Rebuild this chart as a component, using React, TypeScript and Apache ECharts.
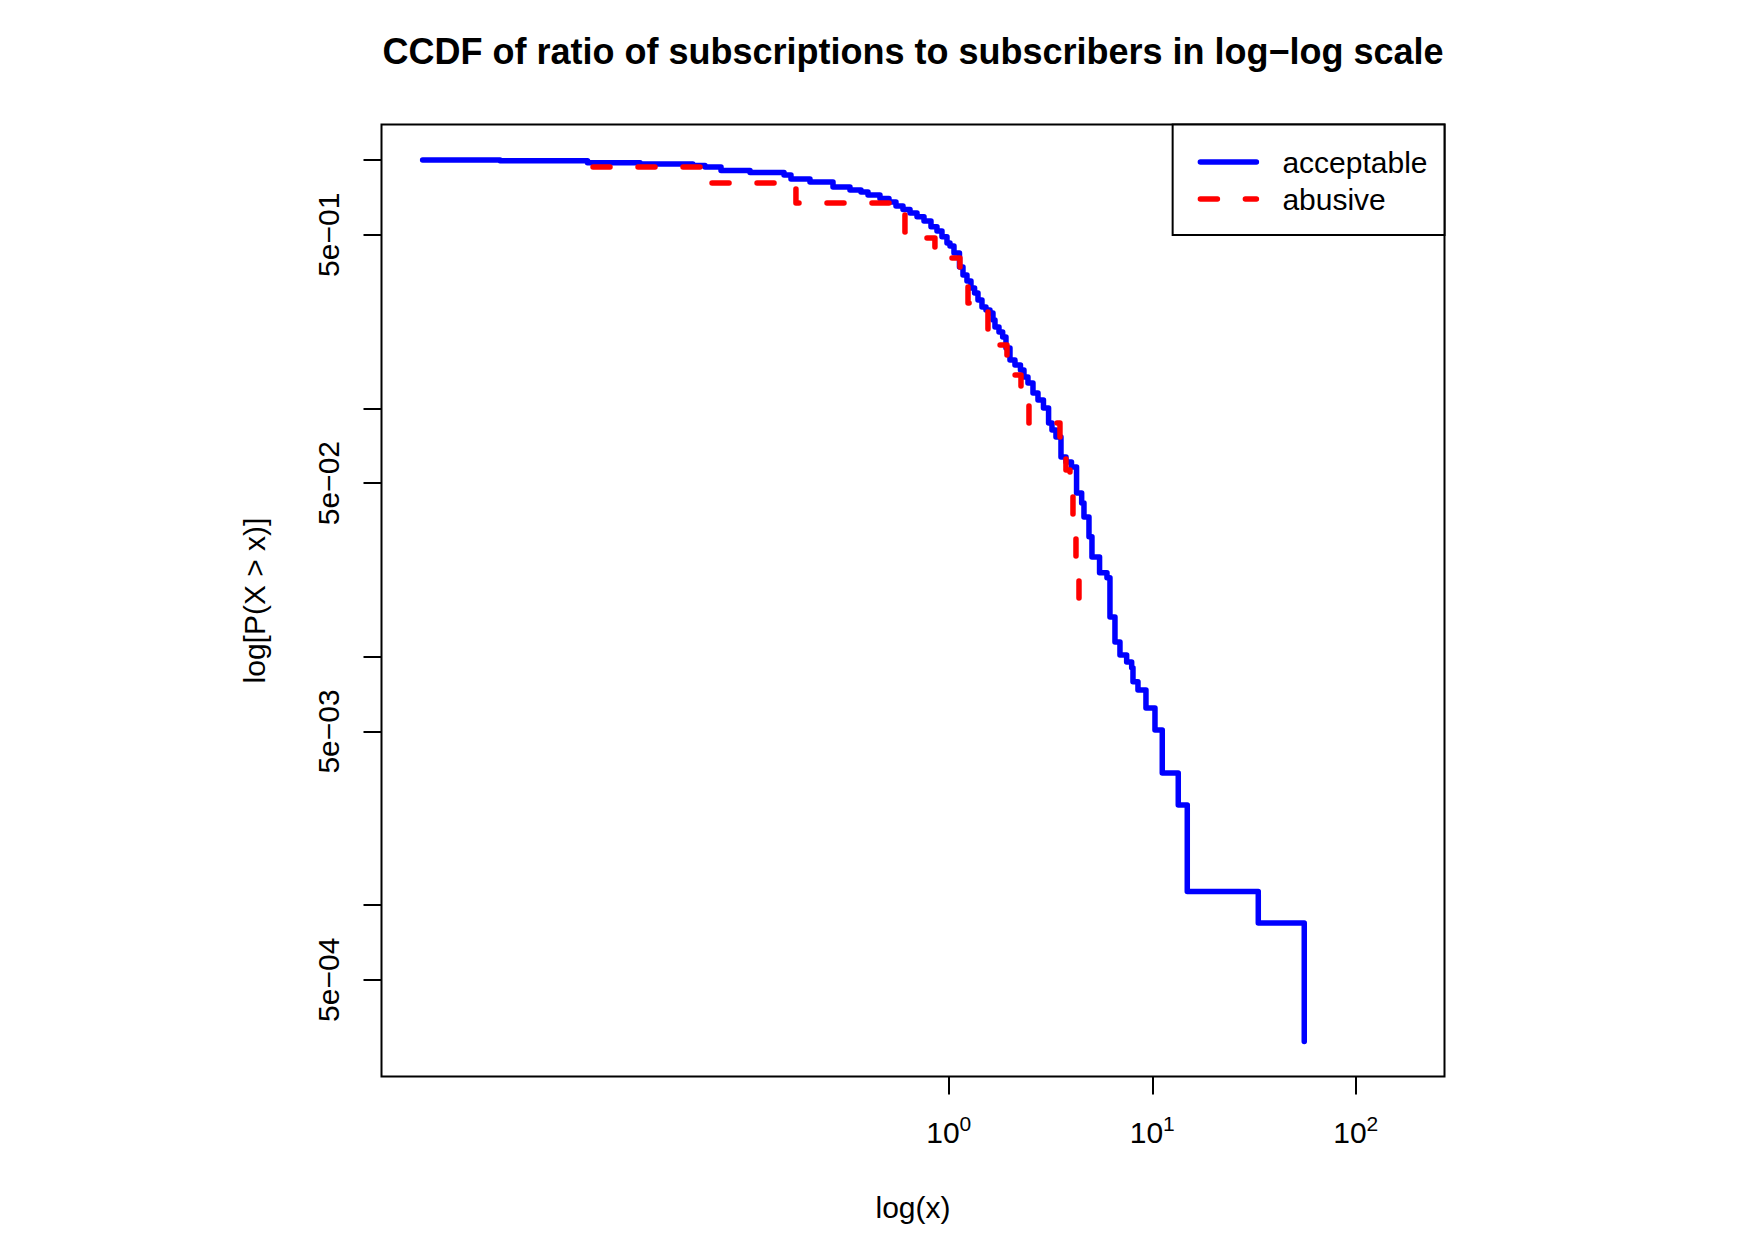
import { useEffect, useRef } from "react";
import * as echarts from "echarts";

// CCDF of the subscriptions / subscribers ratio, per account class
const acceptableX = [
  0.002596, 0.006232, 0.01677, 0.03039, 0.05521, 0.06339, 0.07598, 0.1055, 0.155, 0.1677,
  0.2079, 0.2698, 0.3269, 0.3703, 0.4009, 0.459, 0.5083, 0.5502, 0.5956, 0.6449,
  0.698, 0.7555, 0.8177, 0.875, 0.926, 0.9798, 1.0137, 1.0606, 1.1287, 1.1743,
  1.2285, 1.2855, 1.3391, 1.3917, 1.4559, 1.5233, 1.5939, 1.6489, 1.6866, 1.7648,
  1.8402, 1.9101, 1.9986, 2.1148, 2.2506, 2.3415, 2.4498, 2.593, 2.7441, 2.9197,
  3.0936, 3.2149, 3.3638, 3.5597, 3.767, 4.0087, 4.2462, 4.4987, 4.6173, 4.8865,
  5.0541, 5.5081, 5.9897, 6.196, 6.5572, 6.9386, 7.4842, 7.9217, 8.0394, 8.5063,
  9.3115, 10.311, 11.198, 13.42, 14.86, 33.19, 55.84,
];
const acceptableP = [
  1.0, 0.9926, 0.9753, 0.9636, 0.9503, 0.9372, 0.9073, 0.8906, 0.87, 0.8385,
  0.8155, 0.7785, 0.7573, 0.7434, 0.7231, 0.6998, 0.6775, 0.6529, 0.6321, 0.6119,
  0.5909, 0.5679, 0.5388, 0.5179, 0.4912, 0.4633, 0.4505, 0.4222, 0.3709, 0.3443,
  0.3257, 0.3053, 0.2914, 0.2731, 0.256, 0.2489, 0.2421, 0.227, 0.2127, 0.2031,
  0.1939, 0.175, 0.1566, 0.1495, 0.1428, 0.1338, 0.1265, 0.1153, 0.1081, 0.1004,
  0.0873, 0.0818, 0.0767, 0.0637, 0.0608, 0.0581, 0.0456, 0.0416, 0.0365, 0.0304,
  0.0252, 0.0218, 0.0208, 0.01446, 0.01147, 0.01017, 0.00953, 0.00902, 0.00792, 0.00735,
  0.00622, 0.00507, 0.003405, 0.00253, 0.001133, 0.000846, 0.000282,
];

const abusiveX = [
  0.01785, 0.0686, 0.1774, 0.5084, 0.609, 0.722, 0.855, 1.014, 1.135, 1.243,
  1.392, 1.558, 1.785, 1.932, 2.115, 2.264, 2.478, 3.519, 3.766, 3.941,
  4.077, 4.218, 4.364,
];
const abusiveP = [
  0.937, 0.808, 0.671, 0.635, 0.513, 0.485, 0.434, 0.403, 0.344, 0.2657,
  0.2445, 0.1975, 0.18, 0.1495, 0.1363, 0.1081, 0.0873, 0.0631, 0.0565, 0.0456,
  0.0324, 0.0204, 0.0138,
];

// axis extents and tick positions
const X_MIN = 0.00163;
const X_MAX = 273;
const Y_MIN = 0.000204;
const Y_MAX = 1.39;
const xTickValues = [1, 10, 100];
const yTickValues = [1, 0.5, 0.1, 0.05, 0.01, 0.005, 0.001, 0.0005];
const yLabelValues = [0.5, 0.05, 0.005, 0.0005];

const FONT = "'Liberation Sans', Arial, Helvetica, sans-serif";
const BLACK = "#000000";
const HIDDEN = "rgba(0,0,0,0)";

const pairs = (xs: number[], ys: number[]) => xs.map((x, i) => [x, ys[i]]);

const formatY = (v: number) => {
  const e = Math.round(Math.log10(v / 5));
  return `5e${e < 0 ? "−" : "+"}${String(Math.abs(e)).padStart(2, "0")}`;
};
const formatX = (v: number) => `{b|10}{s|${Math.round(Math.log10(v))}}`;

function buildOption() {
  return {
    animation: false,
    backgroundColor: "#ffffff",
    textStyle: { fontFamily: FONT, color: BLACK },
    title: {
      text: "CCDF of ratio of subscriptions to subscribers in log−log scale",
      left: 913,
      top: 33,
      textAlign: "center",
      padding: 0,
      textStyle: { fontSize: 36, fontWeight: "bold", color: BLACK, fontFamily: FONT, lineHeight: 36 },
    },
    legend: {
      orient: "vertical",
      right: 309.5,
      top: 124.5,
      padding: [22.5, 17, 21, 25],
      itemWidth: 56,
      itemHeight: 30,
      itemGap: 7,
      borderColor: BLACK,
      borderWidth: 2,
      backgroundColor: "#ffffff",
      selectedMode: false,
      lineStyle: { width: 5.5 },
      // the key shows only the line, no marker
      itemStyle: { color: HIDDEN, borderColor: HIDDEN, borderWidth: 0, opacity: 0 },
      textStyle: { fontSize: 30, color: BLACK, fontFamily: FONT, lineHeight: 30, padding: [0, 0, 0, 21] },
      data: ["acceptable", "abusive"],
    },
    grid: {
      left: 381.5,
      top: 124.5,
      right: 309.5,
      bottom: 164.5,
      show: true,
      borderColor: BLACK,
      borderWidth: 2,
      backgroundColor: "transparent",
      containLabel: false,
      outerBoundsMode: "none",
    },
    xAxis: {
      type: "log",
      logBase: 10,
      min: X_MIN,
      max: X_MAX,
      name: "log(x)",
      nameLocation: "middle",
      nameGap: 116,
      nameTextStyle: { fontSize: 30, color: BLACK, fontFamily: FONT, lineHeight: 30 },
      axisLine: { show: false },
      axisTick: {
        show: true,
        inside: false,
        length: 18,
        customValues: xTickValues,
        lineStyle: { color: BLACK, width: 2 },
      },
      axisLabel: {
        customValues: xTickValues,
        margin: 41,
        formatter: formatX,
        rich: {
          b: { fontSize: 30, lineHeight: 30, verticalAlign: "bottom", color: BLACK, fontFamily: FONT },
          s: {
            fontSize: 21,
            lineHeight: 30,
            verticalAlign: "bottom",
            padding: [0, 0, 14, 0],
            color: BLACK,
            fontFamily: FONT,
          },
        },
      },
      splitLine: { show: false },
    },
    yAxis: {
      type: "log",
      logBase: 10,
      min: Y_MIN,
      max: Y_MAX,
      name: "log[P(X > x)]",
      nameLocation: "middle",
      nameRotate: 90,
      nameGap: 112,
      nameTextStyle: { fontSize: 30, color: BLACK, fontFamily: FONT, lineHeight: 30 },
      axisLine: { show: false },
      axisTick: {
        show: true,
        inside: false,
        length: 18,
        customValues: yTickValues,
        lineStyle: { color: BLACK, width: 2 },
      },
      axisLabel: {
        customValues: yLabelValues,
        rotate: 90,
        margin: 38,
        formatter: formatY,
        fontSize: 30,
        lineHeight: 30,
        color: BLACK,
        fontFamily: FONT,
      },
      splitLine: { show: false },
    },
    series: [
      {
        name: "acceptable",
        type: "line",
        step: "end",
        data: pairs(acceptableX, acceptableP),
        symbol: "none",
        showSymbol: false,
        color: "#0000ff",
        lineStyle: { color: "#0000ff", width: 5.5, cap: "round", join: "round" },
        z: 2,
      },
      {
        name: "abusive",
        type: "line",
        step: "end",
        data: pairs(abusiveX, abusiveP),
        symbol: "none",
        showSymbol: false,
        color: "#ff0000",
        lineStyle: { color: "#ff0000", width: 5.5, type: [17, 28], cap: "round", join: "round" },
        z: 3,
      },
    ],
  };
}

export default function App() {
  const ref = useRef<HTMLDivElement>(null);
  useEffect(() => {
    if (!ref.current) return;
    const chart = echarts.init(ref.current, null, { renderer: "svg" });
    chart.setOption(buildOption() as any);
    return () => chart.dispose();
  }, []);
  return (
    <div
      ref={ref}
      style={{ position: "fixed", left: 0, top: 0, width: 1754, height: 1241, background: "#ffffff" }}
    />
  );
}
